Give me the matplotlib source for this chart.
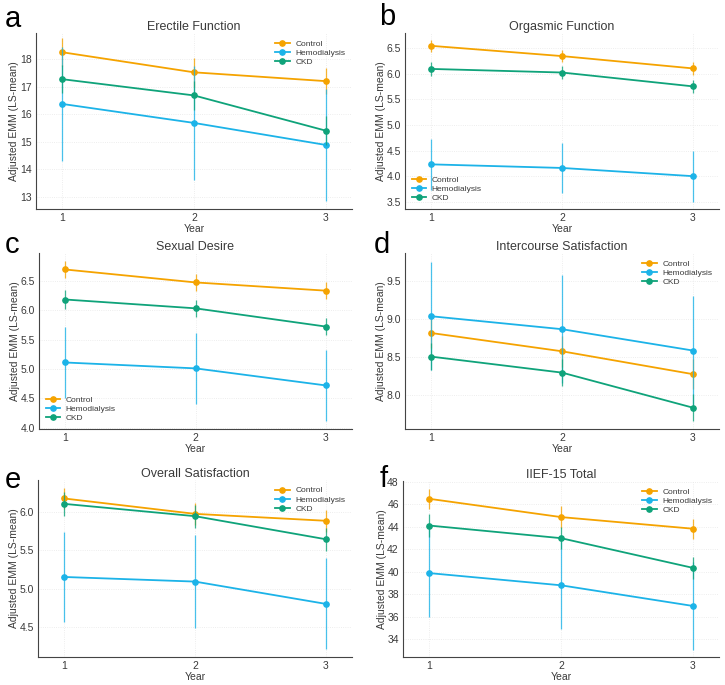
import matplotlib.pyplot as plt

years = [1, 2, 3]
groups = ['Control', 'Hemodialysis', 'CKD']
colors = {'Control': '#F5A300', 'Hemodialysis': '#1CB3E8', 'CKD': '#0FA37A'}

titles = ['Erectile Function', 'Orgasmic Function', 'Sexual Desire',
          'Intercourse Satisfaction', 'Overall Satisfaction', 'IIEF-15 Total']
letters = ['a', 'b', 'c', 'd', 'e', 'f']
legend_locs = ['upper right', 'lower left', 'lower left',
               'upper right', 'upper right', 'upper right']

# estimated marginal means per domain, per group
erectile_mean = {'Control': [18.25, 17.52, 17.20],
                 'Hemodialysis': [16.37, 15.68, 14.88],
                 'CKD': [17.27, 16.68, 15.40]}
erectile_ci = {'Control': [0.50, 0.52, 0.48],
               'Hemodialysis': [2.07, 2.06, 2.05],
               'CKD': [0.50, 0.52, 0.53]}

orgasmic_mean = {'Control': [6.54, 6.34, 6.10],
                 'Hemodialysis': [4.23, 4.16, 4.00],
                 'CKD': [6.09, 6.02, 5.75]}
orgasmic_ci = {'Control': [0.12, 0.11, 0.13],
               'Hemodialysis': [0.50, 0.49, 0.50],
               'CKD': [0.13, 0.13, 0.13]}

desire_mean = {'Control': [6.69, 6.47, 6.33],
               'Hemodialysis': [5.11, 5.01, 4.72],
               'CKD': [6.18, 6.03, 5.72]}
desire_ci = {'Control': [0.15, 0.15, 0.14],
             'Hemodialysis': [0.61, 0.60, 0.60],
             'CKD': [0.16, 0.15, 0.15]}

intercourse_mean = {'Control': [8.82, 8.58, 8.28],
                    'Hemodialysis': [9.04, 8.87, 8.59],
                    'CKD': [8.51, 8.30, 7.84]}
intercourse_ci = {'Control': [0.20, 0.20, 0.20],
                  'Hemodialysis': [0.71, 0.71, 0.71],
                  'CKD': [0.18, 0.18, 0.18]}

overall_mean = {'Control': [6.17, 5.97, 5.88],
                'Hemodialysis': [5.15, 5.09, 4.80],
                'CKD': [6.10, 5.94, 5.64]}
overall_ci = {'Control': [0.14, 0.14, 0.14],
              'Hemodialysis': [0.58, 0.60, 0.59],
              'CKD': [0.16, 0.15, 0.15]}

total_mean = {'Control': [46.47, 44.85, 43.82],
              'Hemodialysis': [39.88, 38.80, 36.97],
              'CKD': [44.10, 42.98, 40.35]}
total_ci = {'Control': [0.90, 0.95, 0.90],
            'Hemodialysis': [3.90, 3.90, 3.90],
            'CKD': [1.00, 1.00, 1.00]}

means = [erectile_mean, orgasmic_mean, desire_mean,
         intercourse_mean, overall_mean, total_mean]
cis = [erectile_ci, orgasmic_ci, desire_ci,
       intercourse_ci, overall_ci, total_ci]
ylims = [(12.55, 18.95), (3.36, 6.79), (3.98, 6.97),
         (7.56, 9.87), (4.11, 6.41), (32.44, 48.05)]

plt.rcParams['font.family'] = ['Liberation Sans', 'DejaVu Sans']
plt.rcParams['text.color'] = '#3a3a3a'
plt.rcParams['axes.labelcolor'] = '#3a3a3a'
plt.rcParams['xtick.color'] = '#3a3a3a'
plt.rcParams['ytick.color'] = '#3a3a3a'

fig = plt.figure(figsize=(7.25, 6.85), dpi=100)

# axes boxes in pixels: left, top, right, bottom
boxes = [(36, 33, 352, 209), (405, 33, 719, 209),
         (39, 253, 352, 429), (405, 253, 719, 429),
         (38, 480, 352, 657), (403, 481, 719, 657)]
# panel letter positions (left, baseline) in pixels
letter_pos = [(5, 27), (379, 25), (5, 253), (374, 253), (5, 488), (380, 487)]
W, H = 725, 685

for i in range(6):
    l, t, r, b = boxes[i]
    ax = fig.add_axes([l / W, 1 - b / H, (r - l) / W, (b - t) / H])
    for g in groups:
        ax.errorbar(years, means[i][g], yerr=cis[i][g], fmt='none',
                    ecolor=colors[g], elinewidth=0.9, alpha=0.8, capsize=0)
        ax.plot(years, means[i][g], color=colors[g], marker='o',
                markersize=3.8, linewidth=1.3, label=g)
    ax.set_xlim(0.8, 3.2)
    ax.set_ylim(*ylims[i])
    ax.set_xticks(years)
    ax.set_title(titles[i], fontsize=9, pad=2.5)
    ax.set_xlabel('Year', fontsize=7.5, labelpad=0.5)
    ax.set_ylabel('Adjusted EMM (LS-mean)', fontsize=7.5, labelpad=0.5)
    ax.tick_params(length=0, labelsize=7.5, pad=3)
    ax.grid(True, color='#e8e8e8', linewidth=0.6, linestyle=':')
    ax.set_axisbelow(True)
    for s in ['top', 'right']:
        ax.spines[s].set_visible(False)
    for s in ['left', 'bottom']:
        ax.spines[s].set_color('#444444')
        ax.spines[s].set_linewidth(0.8)
    ax.legend(loc=legend_locs[i], fontsize=6, frameon=False,
              handlelength=1.7, handletextpad=0.7, labelspacing=0.15,
              borderaxespad=0.4)
    lx, ly = letter_pos[i]
    fig.text(lx / W, 1 - ly / H, letters[i], fontsize=21,
             ha='left', va='baseline', color='black')

fig.savefig('out.png', dpi=100)
